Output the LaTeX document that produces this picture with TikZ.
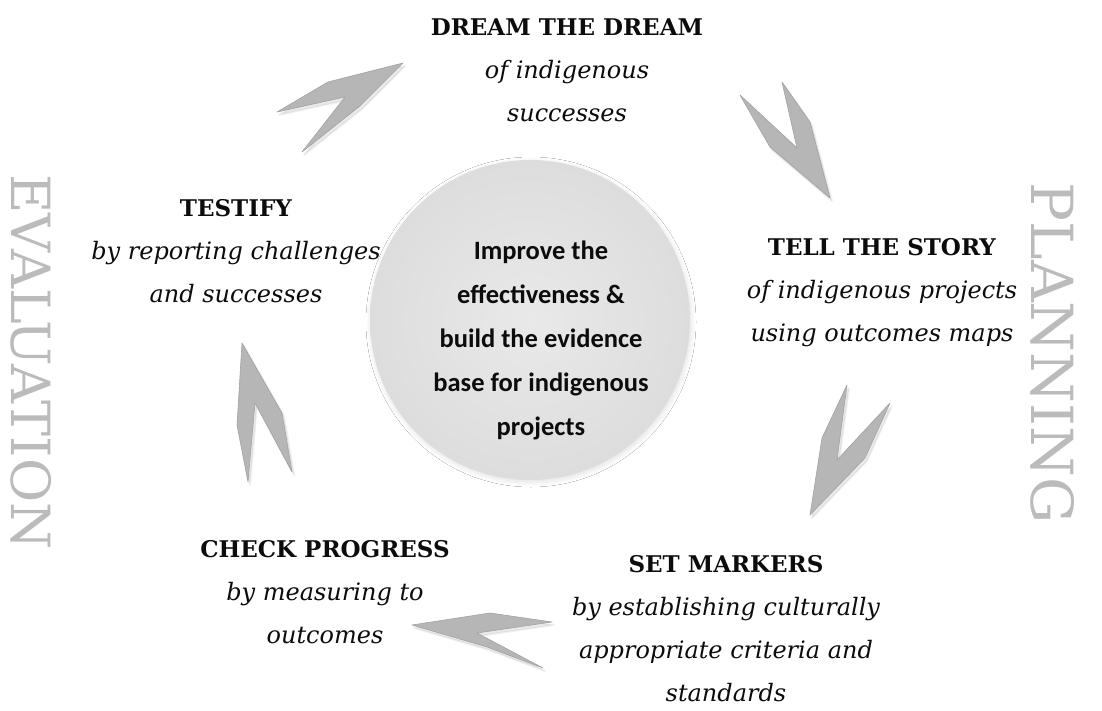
\documentclass[tikz,border=0pt]{standalone}
\usepackage{fontspec}
\setmainfont{DejaVu Serif}
\newfontfamily\corefont{Carlito}
\usetikzlibrary{shadows.blur}

\definecolor{ink}{HTML}{0C0C0C}
\definecolor{chevronfill}{HTML}{B6B6B6}
\definecolor{chevronedge}{HTML}{A2A2A2}
\definecolor{discin}{HTML}{E9E9E9}
\definecolor{discout}{HTML}{DDDDDD}
\definecolor{phase}{HTML}{BBBBBB}

\tikzset{
  stage/.style={align=center, inner sep=0pt, text=ink,
    font=\fontsize{23}{43}\selectfont},
  chevron/.style={fill=chevronfill, draw=chevronedge, line width=0.6pt,
    line join=round},
  chevronshade/.style={fill=black, fill opacity=0.08, draw=black,
    draw opacity=0.05, line width=2pt, line join=round,
    xshift=2pt, yshift=-3pt},
  disc/.style={circle, minimum size=320pt, inner sep=0pt,
    inner color=discin, outer color=discout,
    blur shadow={shadow xshift=1pt, shadow yshift=-2pt,
      shadow blur steps=8, shadow blur radius=5pt, shadow opacity=12}},
  coretext/.style={align=center, inner sep=0pt, text=ink,
    font=\corefont\bfseries\fontsize{26.5}{44}\selectfont},
  phaselabel/.style={text=phase, inner sep=0pt, rotate=-90}
}
\newcommand{\sub}[1]{{\fontsize{24}{43}\selectfont\itshape #1}}
% a chevron drawn with a faint offset shade underneath
\newcommand{\chevronpath}[1]{%
  \fill[chevronshade] #1;
  \draw[chevron] #1;}

\begin{document}
\begin{tikzpicture}[x=1pt, y=-1pt]
\useasboundingbox (0,0) rectangle (1102,711);
\fill[white] (0,0) rectangle (1102,711);

% central goal
\node[disc] (core) at (530,320) {};
\node[coretext] (goal) at (541,340)
  {Improve the\\effectiveness \&\\build the evidence\\base for indigenous\\projects};

% the five stages of the cycle
\node[stage] (dream) at (567,70)
  {\textbf{DREAM THE DREAM}\\\sub{of indigenous}\\\sub{successes}};
\node[stage] (story) at (882,293)
  {\textbf{TELL THE STORY}\\\sub{of indigenous projects}\\\sub{using outcomes maps}};
\node[stage] (markers) at (726,629)
  {\textbf{SET MARKERS}\\\sub{by establishing culturally}\\\sub{appropriate criteria and}\\\sub{standards}};
\node[stage] (progress) at (325,592)
  {\textbf{CHECK PROGRESS}\\\sub{by measuring to}\\\sub{outcomes}};
\node[stage] (testify) at (236,251)
  {\textbf{TESTIFY}\\\sub{by reporting challenges}\\\sub{and successes}};

% chevrons between the stages
\chevronpath{(403,63) -- (328,82) -- (277,112) -- (345,97)
  -- (302,152) -- (360,106) -- cycle}
\chevronpath{(830,198) -- (770,147) -- (740,95) -- (797,148)
  -- (782,82) -- (810,122) -- cycle}
\chevronpath{(810,515) -- (822,438) -- (847,385) -- (837,460)
  -- (890,403) -- (865,458) -- cycle}
\chevronpath{(412,625) -- (490,613) -- (552,622) -- (477,633)
  -- (543,668) -- (487,647) -- cycle}
\chevronpath{(242,343) -- (282,413) -- (292,472) -- (255,403)
  -- (248,482) -- (237,425) -- cycle}

% phase labels
\node[phaselabel, font=\fontsize{54}{54}\selectfont] (evaluation) at (31,362) {EVALUATION};
\node[phaselabel, font=\fontsize{58}{58}\selectfont] (planning) at (1053,353) {PLANNING};
\end{tikzpicture}
\end{document}
